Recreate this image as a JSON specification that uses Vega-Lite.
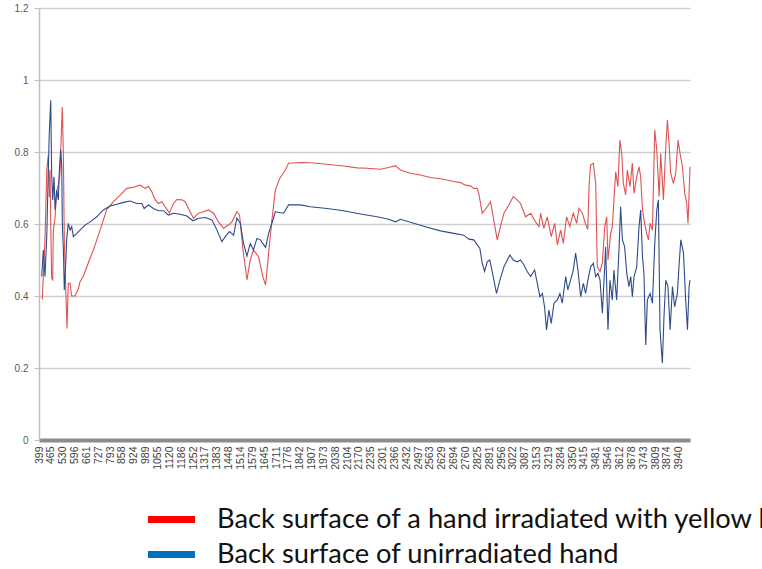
{
"$schema": "https://vega.github.io/schema/vega-lite/v6.json",
"width": 651, "height": 432,
"autosize": {"type": "none"},
"padding": {"left": 39, "top": 8, "right": 72, "bottom": 129},
"background": "white",
"config": {"view": {"stroke": null}},
"data": {"values": [
{"s":"a","w":417,"v":0.39},{"s":"a","w":432,"v":0.556},{"s":"a","w":442,"v":0.75},{"s":"a","w":450,"v":0.79},{"s":"a","w":456,"v":0.675},{"s":"a","w":460,"v":0.75},{"s":"a","w":464,"v":0.6},{"s":"a","w":469,"v":0.45},{"s":"a","w":475,"v":0.445},{"s":"a","w":478,"v":0.58},{"s":"a","w":488,"v":0.62},{"s":"a","w":497,"v":0.69},{"s":"a","w":506,"v":0.71},{"s":"a","w":515,"v":0.74},{"s":"a","w":521,"v":0.83},{"s":"a","w":528,"v":0.925},{"s":"a","w":534,"v":0.79},{"s":"a","w":539,"v":0.556},{"s":"a","w":547,"v":0.42},{"s":"a","w":554,"v":0.31},{"s":"a","w":561,"v":0.435},{"s":"a","w":571,"v":0.435},{"s":"a","w":580,"v":0.4},{"s":"a","w":598,"v":0.4},{"s":"a","w":617,"v":0.42},{"s":"a","w":626,"v":0.44},{"s":"a","w":644,"v":0.455},{"s":"a","w":663,"v":0.48},{"s":"a","w":678,"v":0.5},{"s":"a","w":700,"v":0.528},{"s":"a","w":737,"v":0.583},{"s":"a","w":774,"v":0.64},{"s":"a","w":811,"v":0.662},{"s":"a","w":848,"v":0.68},{"s":"a","w":885,"v":0.699},{"s":"a","w":921,"v":0.702},{"s":"a","w":959,"v":0.708},{"s":"a","w":986,"v":0.699},{"s":"a","w":1005,"v":0.704},{"s":"a","w":1023,"v":0.69},{"s":"a","w":1042,"v":0.667},{"s":"a","w":1060,"v":0.657},{"s":"a","w":1079,"v":0.662},{"s":"a","w":1097,"v":0.648},{"s":"a","w":1121,"v":0.631},{"s":"a","w":1143,"v":0.657},{"s":"a","w":1162,"v":0.668},{"s":"a","w":1190,"v":0.667},{"s":"a","w":1208,"v":0.662},{"s":"a","w":1226,"v":0.643},{"s":"a","w":1254,"v":0.616},{"s":"a","w":1282,"v":0.63},{"s":"a","w":1309,"v":0.634},{"s":"a","w":1337,"v":0.639},{"s":"a","w":1365,"v":0.63},{"s":"a","w":1392,"v":0.606},{"s":"a","w":1420,"v":0.588},{"s":"a","w":1448,"v":0.597},{"s":"a","w":1467,"v":0.606},{"s":"a","w":1494,"v":0.634},{"s":"a","w":1509,"v":0.625},{"s":"a","w":1528,"v":0.528},{"s":"a","w":1550,"v":0.445},{"s":"a","w":1568,"v":0.5},{"s":"a","w":1586,"v":0.528},{"s":"a","w":1614,"v":0.509},{"s":"a","w":1638,"v":0.454},{"s":"a","w":1653,"v":0.43},{"s":"a","w":1670,"v":0.52},{"s":"a","w":1688,"v":0.611},{"s":"a","w":1707,"v":0.694},{"s":"a","w":1730,"v":0.725},{"s":"a","w":1762,"v":0.75},{"s":"a","w":1780,"v":0.769},{"s":"a","w":1845,"v":0.771},{"s":"a","w":1901,"v":0.77},{"s":"a","w":1993,"v":0.766},{"s":"a","w":2085,"v":0.761},{"s":"a","w":2159,"v":0.756},{"s":"a","w":2215,"v":0.755},{"s":"a","w":2288,"v":0.752},{"s":"a","w":2334,"v":0.757},{"s":"a","w":2372,"v":0.762},{"s":"a","w":2399,"v":0.75},{"s":"a","w":2455,"v":0.741},{"s":"a","w":2510,"v":0.736},{"s":"a","w":2565,"v":0.729},{"s":"a","w":2630,"v":0.725},{"s":"a","w":2695,"v":0.718},{"s":"a","w":2732,"v":0.715},{"s":"a","w":2759,"v":0.708},{"s":"a","w":2787,"v":0.706},{"s":"a","w":2805,"v":0.699},{"s":"a","w":2824,"v":0.699},{"s":"a","w":2833,"v":0.685},{"s":"a","w":2852,"v":0.63},{"s":"a","w":2880,"v":0.648},{"s":"a","w":2898,"v":0.662},{"s":"a","w":2916,"v":0.611},{"s":"a","w":2935,"v":0.556},{"s":"a","w":2953,"v":0.593},{"s":"a","w":2972,"v":0.63},{"s":"a","w":2999,"v":0.653},{"s":"a","w":3024,"v":0.676},{"s":"a","w":3046,"v":0.667},{"s":"a","w":3064,"v":0.657},{"s":"a","w":3092,"v":0.62},{"s":"a","w":3120,"v":0.63},{"s":"a","w":3147,"v":0.606},{"s":"a","w":3166,"v":0.593},{"s":"a","w":3175,"v":0.63},{"s":"a","w":3193,"v":0.588},{"s":"a","w":3212,"v":0.62},{"s":"a","w":3234,"v":0.565},{"s":"a","w":3253,"v":0.602},{"s":"a","w":3268,"v":0.542},{"s":"a","w":3286,"v":0.583},{"s":"a","w":3301,"v":0.546},{"s":"a","w":3319,"v":0.62},{"s":"a","w":3337,"v":0.593},{"s":"a","w":3356,"v":0.63},{"s":"a","w":3375,"v":0.602},{"s":"a","w":3387,"v":0.643},{"s":"a","w":3406,"v":0.63},{"s":"a","w":3424,"v":0.6},{"s":"a","w":3436,"v":0.585},{"s":"a","w":3444,"v":0.713},{"s":"a","w":3452,"v":0.764},{"s":"a","w":3467,"v":0.769},{"s":"a","w":3480,"v":0.713},{"s":"a","w":3489,"v":0.481},{"s":"a","w":3504,"v":0.468},{"s":"a","w":3517,"v":0.491},{"s":"a","w":3530,"v":0.593},{"s":"a","w":3541,"v":0.62},{"s":"a","w":3548,"v":0.5},{"s":"a","w":3563,"v":0.574},{"s":"a","w":3572,"v":0.593},{"s":"a","w":3581,"v":0.667},{"s":"a","w":3591,"v":0.745},{"s":"a","w":3603,"v":0.704},{"s":"a","w":3614,"v":0.833},{"s":"a","w":3624,"v":0.796},{"s":"a","w":3633,"v":0.713},{"s":"a","w":3646,"v":0.681},{"s":"a","w":3655,"v":0.75},{"s":"a","w":3670,"v":0.704},{"s":"a","w":3683,"v":0.769},{"s":"a","w":3692,"v":0.685},{"s":"a","w":3707,"v":0.731},{"s":"a","w":3720,"v":0.759},{"s":"a","w":3729,"v":0.731},{"s":"a","w":3739,"v":0.639},{"s":"a","w":3751,"v":0.602},{"s":"a","w":3762,"v":0.574},{"s":"a","w":3772,"v":0.556},{"s":"a","w":3781,"v":0.602},{"s":"a","w":3794,"v":0.583},{"s":"a","w":3807,"v":0.861},{"s":"a","w":3818,"v":0.806},{"s":"a","w":3831,"v":0.676},{"s":"a","w":3840,"v":0.796},{"s":"a","w":3855,"v":0.667},{"s":"a","w":3868,"v":0.815},{"s":"a","w":3877,"v":0.889},{"s":"a","w":3886,"v":0.824},{"s":"a","w":3895,"v":0.741},{"s":"a","w":3910,"v":0.713},{"s":"a","w":3923,"v":0.741},{"s":"a","w":3936,"v":0.833},{"s":"a","w":3947,"v":0.796},{"s":"a","w":3960,"v":0.759},{"s":"a","w":3973,"v":0.685},{"s":"a","w":3984,"v":0.657},{"s":"a","w":3991,"v":0.602},{"s":"a","w":4002,"v":0.759},
{"s":"b","w":414,"v":0.454},{"s":"b","w":423,"v":0.528},{"s":"b","w":432,"v":0.454},{"s":"b","w":442,"v":0.565},{"s":"b","w":450,"v":0.741},{"s":"b","w":456,"v":0.852},{"s":"b","w":464,"v":0.944},{"s":"b","w":469,"v":0.741},{"s":"b","w":475,"v":0.667},{"s":"b","w":482,"v":0.731},{"s":"b","w":488,"v":0.639},{"s":"b","w":497,"v":0.694},{"s":"b","w":506,"v":0.667},{"s":"b","w":511,"v":0.741},{"s":"b","w":519,"v":0.806},{"s":"b","w":525,"v":0.759},{"s":"b","w":528,"v":0.602},{"s":"b","w":534,"v":0.528},{"s":"b","w":539,"v":0.417},{"s":"b","w":547,"v":0.491},{"s":"b","w":552,"v":0.556},{"s":"b","w":561,"v":0.602},{"s":"b","w":571,"v":0.583},{"s":"b","w":580,"v":0.593},{"s":"b","w":589,"v":0.565},{"s":"b","w":608,"v":0.574},{"s":"b","w":626,"v":0.583},{"s":"b","w":654,"v":0.597},{"s":"b","w":682,"v":0.606},{"s":"b","w":719,"v":0.62},{"s":"b","w":755,"v":0.639},{"s":"b","w":792,"v":0.65},{"s":"b","w":830,"v":0.655},{"s":"b","w":866,"v":0.66},{"s":"b","w":903,"v":0.664},{"s":"b","w":940,"v":0.657},{"s":"b","w":968,"v":0.657},{"s":"b","w":981,"v":0.643},{"s":"b","w":1005,"v":0.653},{"s":"b","w":1032,"v":0.643},{"s":"b","w":1060,"v":0.637},{"s":"b","w":1088,"v":0.637},{"s":"b","w":1115,"v":0.625},{"s":"b","w":1143,"v":0.63},{"s":"b","w":1180,"v":0.627},{"s":"b","w":1217,"v":0.622},{"s":"b","w":1251,"v":0.609},{"s":"b","w":1282,"v":0.616},{"s":"b","w":1319,"v":0.618},{"s":"b","w":1356,"v":0.611},{"s":"b","w":1384,"v":0.583},{"s":"b","w":1411,"v":0.551},{"s":"b","w":1430,"v":0.565},{"s":"b","w":1453,"v":0.579},{"s":"b","w":1476,"v":0.569},{"s":"b","w":1494,"v":0.616},{"s":"b","w":1513,"v":0.602},{"s":"b","w":1531,"v":0.546},{"s":"b","w":1550,"v":0.511},{"s":"b","w":1568,"v":0.546},{"s":"b","w":1586,"v":0.528},{"s":"b","w":1605,"v":0.56},{"s":"b","w":1624,"v":0.556},{"s":"b","w":1653,"v":0.535},{"s":"b","w":1670,"v":0.574},{"s":"b","w":1688,"v":0.602},{"s":"b","w":1707,"v":0.634},{"s":"b","w":1753,"v":0.63},{"s":"b","w":1780,"v":0.653},{"s":"b","w":1845,"v":0.653},{"s":"b","w":1901,"v":0.648},{"s":"b","w":1993,"v":0.643},{"s":"b","w":2085,"v":0.637},{"s":"b","w":2178,"v":0.628},{"s":"b","w":2270,"v":0.62},{"s":"b","w":2334,"v":0.613},{"s":"b","w":2372,"v":0.606},{"s":"b","w":2399,"v":0.613},{"s":"b","w":2473,"v":0.602},{"s":"b","w":2547,"v":0.591},{"s":"b","w":2621,"v":0.581},{"s":"b","w":2695,"v":0.574},{"s":"b","w":2750,"v":0.569},{"s":"b","w":2778,"v":0.558},{"s":"b","w":2805,"v":0.556},{"s":"b","w":2839,"v":0.532},{"s":"b","w":2852,"v":0.491},{"s":"b","w":2865,"v":0.468},{"s":"b","w":2880,"v":0.495},{"s":"b","w":2894,"v":0.5},{"s":"b","w":2913,"v":0.454},{"s":"b","w":2931,"v":0.407},{"s":"b","w":2950,"v":0.444},{"s":"b","w":2972,"v":0.481},{"s":"b","w":2991,"v":0.5},{"s":"b","w":3005,"v":0.514},{"s":"b","w":3024,"v":0.5},{"s":"b","w":3046,"v":0.495},{"s":"b","w":3064,"v":0.5},{"s":"b","w":3083,"v":0.486},{"s":"b","w":3101,"v":0.468},{"s":"b","w":3120,"v":0.454},{"s":"b","w":3142,"v":0.472},{"s":"b","w":3157,"v":0.435},{"s":"b","w":3171,"v":0.398},{"s":"b","w":3185,"v":0.407},{"s":"b","w":3197,"v":0.37},{"s":"b","w":3208,"v":0.306},{"s":"b","w":3221,"v":0.361},{"s":"b","w":3234,"v":0.324},{"s":"b","w":3249,"v":0.38},{"s":"b","w":3268,"v":0.389},{"s":"b","w":3282,"v":0.407},{"s":"b","w":3295,"v":0.38},{"s":"b","w":3314,"v":0.454},{"s":"b","w":3326,"v":0.417},{"s":"b","w":3341,"v":0.444},{"s":"b","w":3356,"v":0.472},{"s":"b","w":3369,"v":0.519},{"s":"b","w":3382,"v":0.472},{"s":"b","w":3397,"v":0.398},{"s":"b","w":3412,"v":0.435},{"s":"b","w":3424,"v":0.407},{"s":"b","w":3437,"v":0.444},{"s":"b","w":3452,"v":0.481},{"s":"b","w":3467,"v":0.491},{"s":"b","w":3480,"v":0.454},{"s":"b","w":3493,"v":0.463},{"s":"b","w":3504,"v":0.444},{"s":"b","w":3517,"v":0.352},{"s":"b","w":3530,"v":0.481},{"s":"b","w":3535,"v":0.537},{"s":"b","w":3548,"v":0.306},{"s":"b","w":3559,"v":0.444},{"s":"b","w":3572,"v":0.389},{"s":"b","w":3581,"v":0.472},{"s":"b","w":3596,"v":0.389},{"s":"b","w":3609,"v":0.528},{"s":"b","w":3618,"v":0.648},{"s":"b","w":3628,"v":0.556},{"s":"b","w":3640,"v":0.537},{"s":"b","w":3652,"v":0.463},{"s":"b","w":3664,"v":0.426},{"s":"b","w":3674,"v":0.454},{"s":"b","w":3683,"v":0.398},{"s":"b","w":3692,"v":0.454},{"s":"b","w":3707,"v":0.481},{"s":"b","w":3720,"v":0.593},{"s":"b","w":3729,"v":0.639},{"s":"b","w":3739,"v":0.509},{"s":"b","w":3747,"v":0.463},{"s":"b","w":3757,"v":0.264},{"s":"b","w":3766,"v":0.389},{"s":"b","w":3781,"v":0.407},{"s":"b","w":3794,"v":0.38},{"s":"b","w":3807,"v":0.546},{"s":"b","w":3818,"v":0.639},{"s":"b","w":3827,"v":0.667},{"s":"b","w":3836,"v":0.306},{"s":"b","w":3849,"v":0.213},{"s":"b","w":3858,"v":0.343},{"s":"b","w":3868,"v":0.444},{"s":"b","w":3880,"v":0.426},{"s":"b","w":3892,"v":0.306},{"s":"b","w":3905,"v":0.426},{"s":"b","w":3917,"v":0.37},{"s":"b","w":3932,"v":0.407},{"s":"b","w":3941,"v":0.481},{"s":"b","w":3951,"v":0.556},{"s":"b","w":3966,"v":0.519},{"s":"b","w":3978,"v":0.389},{"s":"b","w":3988,"v":0.306},{"s":"b","w":3997,"v":0.426},{"s":"b","w":4002,"v":0.444}
]},
"encoding": {
"x": {"field": "w", "type": "quantitative", "scale": {"domain": [399, 4002], "nice": false, "zero": false},
 "axis": {"title": null, "values": [399,465,530,596,661,727,793,858,924,989,1055,1120,1186,1252,1317,1383,1448,1514,1579,1645,1711,1776,1842,1907,1973,2038,2104,2170,2235,2301,2366,2432,2497,2563,2629,2694,2760,2825,2891,2956,3022,3087,3153,3219,3284,3350,3415,3481,3546,3612,3678,3743,3809,3874,3940], "format": "d", "labelAngle": 270, "labelOverlap": false, "labelFlush": false, "ticks": false, "grid": false, "domainColor": "#8c8c8c", "domainWidth": 4, "labelFont": "Liberation Sans", "labelFontSize": 10.5, "labelColor": "#404040", "labelPadding": 6}},
"y": {"field": "v", "type": "quantitative", "scale": {"domain": [0, 1.2], "nice": false},
 "axis": {"title": null, "values": [0,0.2,0.4,0.6,0.8,1,1.2], "format": ".2~f", "gridColor": "#d0d0d0", "gridWidth": 1.5, "domainColor": "#c0c0c0", "domainWidth": 1.5, "tickColor": "#c0c0c0", "tickSize": 5, "labelFont": "Liberation Sans", "labelFontSize": 10, "labelColor": "#595959", "labelPadding": 6}}
},
"layer": [
{"mark": {"type": "line", "strokeWidth": 1.1},
 "encoding": {"detail": {"field": "s", "type": "nominal"},
  "color": {"condition": {"test": "datum.s === 'a'", "value": "#e05252"}, "value": "#2f4a8a"}}},
{"mark": {"type": "line", "opacity": 0},
 "encoding": {"color": {"field": "s", "type": "nominal", "scale": {"domain": ["a", "b"], "range": ["#ff0000", "#0070c0"]},
  "legend": {"orient": "none", "legendX": 117, "legendY": 496, "title": null, "direction": "vertical", "symbolType": "M-2,0L2,0", "symbolSize": 552, "symbolStrokeWidth": 7, "symbolOpacity": 1, "labelFont": "Lato", "labelFontSize": 27.3, "labelColor": "#111111", "labelOffset": 30, "labelLimit": 900, "rowPadding": 5, "padding": 0,
   "labelExpr": "datum.value == 'a' ? 'Back surface of a hand irradiated with yellow light' : 'Back surface of unirradiated hand'"}}}}
]
}
